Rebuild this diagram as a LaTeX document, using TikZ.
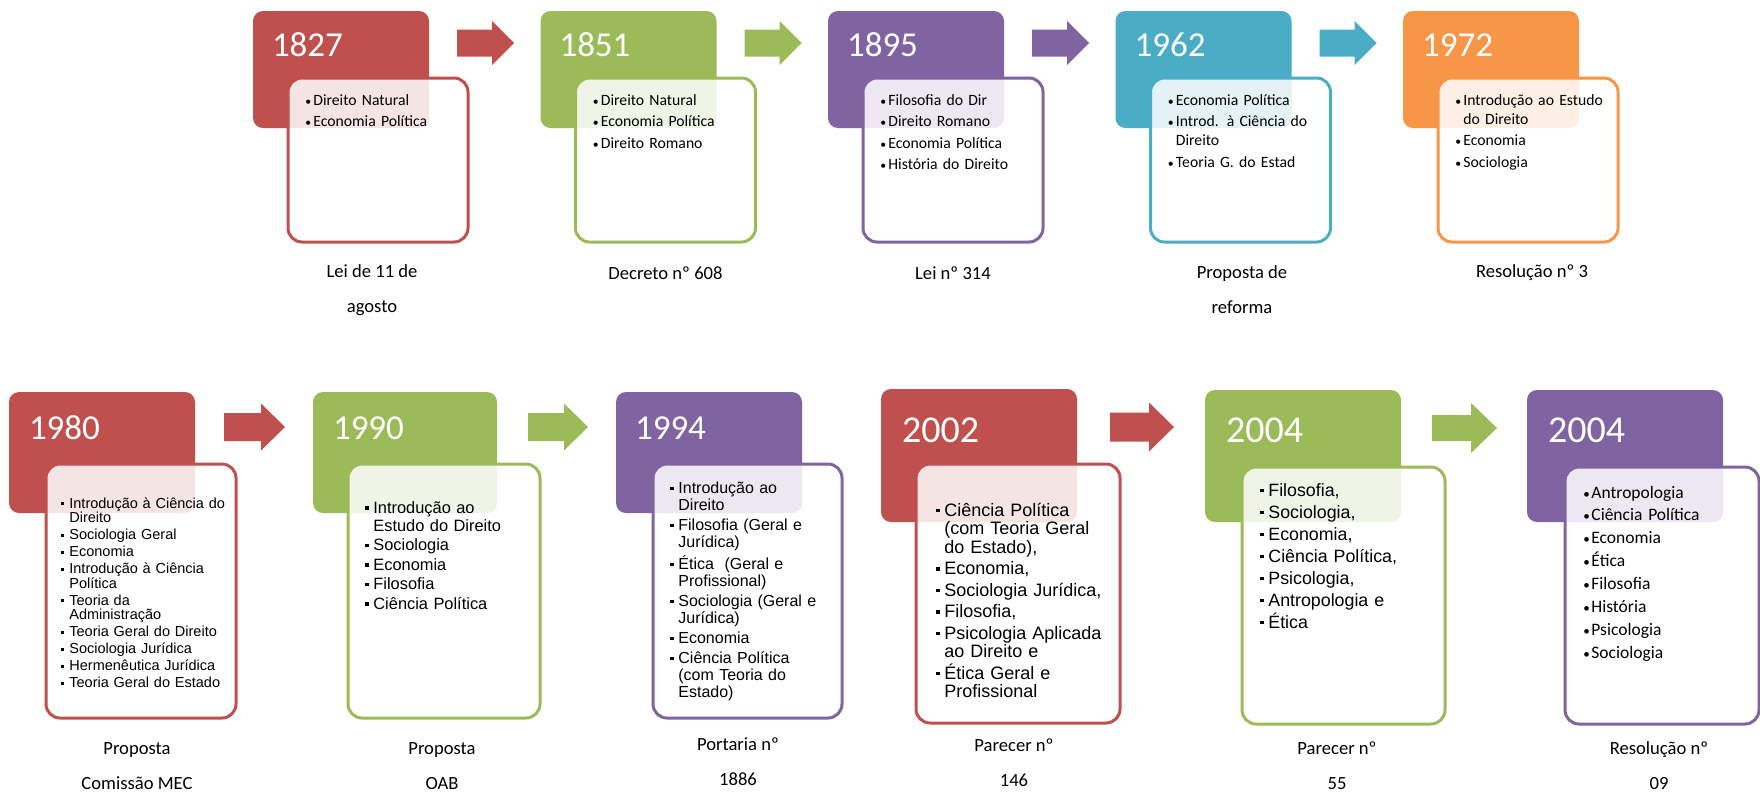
\documentclass[tikz,border=0pt]{standalone}
\usepackage{fontspec}
\setmainfont{Carlito}
\newfontfamily\arialfont{Liberation Sans}

\definecolor{cRed}{HTML}{C0504D}
\definecolor{cGreen}{HTML}{9BBB59}
\definecolor{cPurple}{HTML}{8064A2}
\definecolor{cAqua}{HTML}{4BACC6}
\definecolor{cOrange}{HTML}{F79646}

% bullets and list items
\newcommand{\rbul}{\scalebox{0.75}{•}}
\newcommand{\sbul}{\raisebox{0.2em}{\rule{0.2em}{0.2em}}}
\newcommand{\itm}[1]{\hangindent=4pt\hangafter=1\noindent\makebox[4pt][l]{\bul}#1\par\vskip\itmgap}
\newcommand{\arl}[3]{\arialfont\fontsize{#1}{#2}\selectfont\let\bul\sbul\def\itmgap{#3}}
\newcommand{\cbl}[3]{\fontsize{#1}{#2}\selectfont\let\bul\rbul\def\itmgap{#3}}

\tikzset{
  hdr/.style={rectangle, rounded corners=5pt, inner sep=0pt},
  bodybox/.style={rectangle, rounded corners=7pt, inner sep=0pt, fill=white,
    fill opacity=0.85, line width=1.5pt},
  yr/.style={anchor=base west, inner sep=0pt, text=white, font=\fontsize{17.5}{20}\selectfont},
  yrbig/.style={yr, font=\fontsize{19}{22}\selectfont},
  lst/.style={anchor=base west, inner sep=0pt, text width=100pt},
  topl/.style={lst, font=\cbl{7.85}{9.5}{1.25pt}},
  lbl/.style={align=center, inner sep=0pt, font=\fontsize{9.3}{17.5}\selectfont},
  pics/chev/.style args={#1/#2/#3/#4}{code={
    \path[pic actions] (0,-#3) -- (#2,-#3) -- (#2,-#4) -- (#1,0) -- (#2,#4) -- (#2,#3) -- (0,#3) -- cycle;}}
}

\begin{document}
\begin{tikzpicture}[x=0.5pt, y=-0.5pt]
\useasboundingbox (0,0) rectangle (1760,794);

% first row
\node[hdr, fill=cRed, minimum width=88pt, minimum height=58.5pt] (h1827) at (341,69.5) {};
\node[bodybox, draw=cRed, minimum width=90pt, minimum height=82pt] (b1827) at (378,160) {};
\node[yr] (y1827) at ([xshift=9.5pt,yshift=-23pt]h1827.north west) {1827};
\node[topl] (l1827) at (305,105) {\itm{Direito Natural}\itm{Economia Política}};
\node[lbl] (d1827) at (372,290) {Lei de 11 de\\agosto};
\pic[fill=cRed] (a1827) at (457,43) {chev=57/35/13.5/22};

\node[hdr, fill=cGreen, minimum width=88pt, minimum height=58.5pt] (h1851) at (628.5,69.5) {};
\node[bodybox, draw=cGreen, minimum width=90pt, minimum height=82pt] (b1851) at (665.5,160) {};
\node[yr] (y1851) at ([xshift=9.5pt,yshift=-23pt]h1851.north west) {1851};
\node[topl] (l1851) at (592.5,105) {\itm{Direito Natural}\itm{Economia Política}\itm{Direito Romano}};
\node[lbl] (d1851) at (665.5,273) {Decreto nº 608};
\pic[fill=cGreen] (a1851) at (744.5,43) {chev=57/35/13.5/22};

\node[hdr, fill=cPurple, minimum width=88pt, minimum height=58.5pt] (h1895) at (916,69.5) {};
\node[bodybox, draw=cPurple, minimum width=90pt, minimum height=82pt] (b1895) at (953,160) {};
\node[yr] (y1895) at ([xshift=9.5pt,yshift=-23pt]h1895.north west) {1895};
\node[topl] (l1895) at (880,105) {\itm{Filosofia do Dir}\itm{Direito Romano}\itm{Economia Política}\itm{História do Direito}};
\node[lbl] (d1895) at (953,273) {Lei nº 314};
\pic[fill=cPurple] (a1895) at (1032,43) {chev=57/35/13.5/22};

\node[hdr, fill=cAqua, minimum width=88pt, minimum height=58.5pt] (h1962) at (1203.5,69.5) {};
\node[bodybox, draw=cAqua, minimum width=90pt, minimum height=82pt] (b1962) at (1240.5,160) {};
\node[yr] (y1962) at ([xshift=9.5pt,yshift=-23pt]h1962.north west) {1962};
\node[topl] (l1962) at (1167.5,105) {\itm{Economia Política}\itm{Introd. à Ciência do\newline Direito}\itm{Teoria G. do Estad}};
\node[lbl] (d1962) at (1242,290) {Proposta de\\reforma};
\pic[fill=cAqua] (a1962) at (1319.5,43) {chev=57/35/13.5/22};

\node[hdr, fill=cOrange, minimum width=88pt, minimum height=58.5pt] (h1972) at (1491,69.5) {};
\node[bodybox, draw=cOrange, minimum width=90pt, minimum height=82pt] (b1972) at (1528,160) {};
\node[yr] (y1972) at ([xshift=9.5pt,yshift=-23pt]h1972.north west) {1972};
\node[topl] (l1972) at (1455,105) {\itm{Introdução ao Estudo\newline do Direito}\itm{Economia}\itm{Sociologia}};
\node[lbl] (d1972) at (1532,273) {Resolução nº 3};

% second row
\node[hdr, fill=cRed, minimum width=93pt, minimum height=60.5pt] (h1980) at (102,452.5) {};
\node[bodybox, draw=cRed, minimum width=95pt, minimum height=127pt] (b1980) at (141,591) {};
\node[yr] (y1980) at ([xshift=10pt,yshift=-24pt]h1980.north west) {1980};
\node[lst, font=\arl{7.25}{7.25}{1.25pt}] (l1980) at (61,508) {\itm{Introdução à Ciência do\newline Direito}\itm{Sociologia Geral}\itm{Economia}\itm{Introdução à Ciência\newline Política}\itm{Teoria da\newline Administração}\itm{Teoria Geral do Direito}\itm{Sociologia Jurídica}\itm{Hermenêutica Jurídica}\itm{Teoria Geral do Estado}};
\node[lbl] (d1980) at (137,766.5) {Proposta\\Comissão MEC};
\pic[fill=cRed] (a1980) at (224,427) {chev=61/37/14/23.5};

\node[hdr, fill=cGreen, minimum width=92pt, minimum height=60.5pt] (h1990) at (405,452.5) {};
\node[bodybox, draw=cGreen, minimum width=96pt, minimum height=127pt] (b1990) at (444,591) {};
\node[yr] (y1990) at ([xshift=10pt,yshift=-24pt]h1990.north west) {1990};
\node[lst, font=\arl{8.2}{9}{0.75pt}] (l1990) at (365,513) {\itm{Introdução ao\newline Estudo do Direito}\itm{Sociologia}\itm{Economia}\itm{Filosofia}\itm{Ciência Política}};
\node[lbl] (d1990) at (442,766.5) {Proposta\\OAB};
\pic[fill=cGreen] (a1990) at (528,427) {chev=60/36/14/23.5};

\node[hdr, fill=cPurple, minimum width=93pt, minimum height=60.5pt] (h1994) at (709,452.5) {};
\node[bodybox, draw=cPurple, minimum width=94.5pt, minimum height=127pt] (b1994) at (747.5,591) {};
\node[yr] (y1994) at ([xshift=9.5pt,yshift=-24pt]h1994.north west) {1994};
\node[lst, font=\arl{8}{8.5}{1.5pt}] (l1994) at (670,493) {\itm{Introdução ao\newline Direito}\itm{Filosofia (Geral e\newline Jurídica)}\itm{Ética~ (Geral e\newline Profissional)}\itm{Sociologia (Geral e\newline Jurídica)}\itm{Economia}\itm{Ciência Política\newline (com Teoria do\newline Estado)}};
\node[lbl] (d1994) at (738,762) {Portaria nº\\1886};

\node[hdr, fill=cRed, minimum width=98pt, minimum height=66.5pt] (h2002) at (979,455.5) {};
\node[bodybox, draw=cRed, minimum width=102pt, minimum height=129.5pt] (b2002) at (1018,593.5) {};
\node[yrbig] (y2002) at ([xshift=10.5pt,yshift=-27pt]h2002.north west) {2002};
\node[lst, font=\arl{9}{9.25}{1.5pt}] (l2002) at (936,516) {\itm{Ciência Política\newline (com Teoria Geral\newline do Estado),}\itm{Economia,}\itm{Sociologia Jurídica,}\itm{Filosofia,}\itm{Psicologia Aplicada\newline ao Direito e}\itm{Ética Geral e\newline Profissional}};
\node[lbl] (d2002) at (1014,762.5) {Parecer nº\\146};
\pic[fill=cRed] (a2002) at (1110,427) {chev=64/39/14.5/24.5};

\node[hdr, fill=cGreen, minimum width=98pt, minimum height=66pt] (h2004) at (1303,456) {};
\node[bodybox, draw=cGreen, minimum width=101.5pt, minimum height=128.5pt] (b2004) at (1343.5,595.5) {};
\node[yrbig] (y2004) at ([xshift=10.5pt,yshift=-26.5pt]h2004.north west) {2004};
\node[lst, font=\arl{8.9}{11}{0pt}] (l2004) at (1260,496) {\itm{Filosofia,}\itm{Sociologia,}\itm{Economia,}\itm{Ciência Política,}\itm{Psicologia,}\itm{Antropologia e}\itm{Ética}};
\node[lbl] (d2004) at (1337,766) {Parecer nº\\55};
\pic[fill=cGreen] (a2004) at (1432,428) {chev=65/39/13/25};

\node[hdr, fill=cPurple, minimum width=98pt, minimum height=66pt] (h2004r) at (1625,456) {};
\node[bodybox, draw=cPurple, minimum width=97pt, minimum height=128.5pt] (b2004r) at (1662,595.5) {};
\node[yrbig] (y2004r) at ([xshift=10.5pt,yshift=-26.5pt]h2004r.north west) {2004};
\node[lst, font=\cbl{8.75}{11.45}{0pt}] (l2004r) at (1583,498) {\itm{Antropologia}\itm{Ciência Política}\itm{Economia}\itm{Ética}\itm{Filosofia}\itm{História}\itm{Psicologia}\itm{Sociologia}};
\node[lbl] (d2004r) at (1659,766) {Resolução nº\\09};
\end{tikzpicture}
\end{document}
